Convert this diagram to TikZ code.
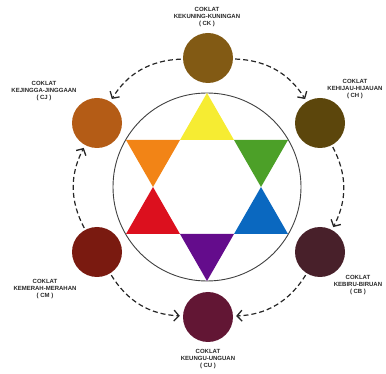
\documentclass[tikz,border=0pt]{standalone}
\usepackage{fontspec}
\setsansfont{Liberation Sans}
\usetikzlibrary{arrows.meta}

\definecolor{ckColor}{RGB}{130,90,20}
\definecolor{chColor}{RGB}{92,70,12}
\definecolor{cjColor}{RGB}{180,92,22}
\definecolor{cmColor}{RGB}{122,26,16}
\definecolor{cbColor}{RGB}{72,32,42}
\definecolor{cuColor}{RGB}{98,22,52}
\definecolor{starYellow}{RGB}{246,236,50}
\definecolor{starGreen}{RGB}{76,160,40}
\definecolor{starBlue}{RGB}{10,104,192}
\definecolor{starViolet}{RGB}{100,12,140}
\definecolor{starRed}{RGB}{220,16,30}
\definecolor{starOrange}{RGB}{242,132,22}

\begin{document}
\begin{tikzpicture}[x=1pt,y=-1pt,
			blob/.style = {circle, minimum size=50pt, inner sep=0pt},
			lbl/.style = {font=\sffamily\bfseries\fontsize{6}{7}\selectfont, align=center, text=black!85, inner sep=1pt},
			arc/.style = {line width=1.2pt, black!85, dash pattern=on 5pt off 3pt,
			              -{Straight Barb[length=5pt, width=11pt, line width=1.3pt]}, shorten >=3pt, shorten <=2pt}]

			% frame
			\useasboundingbox (0,0) rectangle (386,374);

			% star inside the circle
			\node [circle, draw=black!75, line width=0.9pt, minimum size=188pt, inner sep=0pt] (ring) at (207,187) {};
			\fill [starYellow] (207,93) -- (180,140) -- (234,140) -- cycle;
			\fill [starGreen] (288,140) -- (234,140) -- (261,187) -- cycle;
			\fill [starBlue] (288,234) -- (261,187) -- (234,234) -- cycle;
			\fill [starViolet] (207,281) -- (234,234) -- (180,234) -- cycle;
			\fill [starRed] (126,234) -- (180,234) -- (153,187) -- cycle;
			\fill [starOrange] (126,140) -- (153,187) -- (180,140) -- cycle;

			% the six browns
			\node [blob, fill=ckColor] (ck) at (208,58) {};
			\node [blob, fill=chColor] (ch) at (320,123) {};
			\node [blob, fill=cbColor] (cb) at (320,252) {};
			\node [blob, fill=cuColor] (cu) at (208,317) {};
			\node [blob, fill=cmColor] (cm) at (97,252) {};
			\node [blob, fill=cjColor] (cj) at (97,123) {};

			% labels
			\node [lbl] (lck) at (207,17) {COKLAT\\KEKUNING-KUNINGAN\\( CK )};
			\node [lbl] (lch) at (355,89) {COKLAT\\KEHIJAU-HIJAUAN\\( CH )};
			\node [lbl] (lcb) at (358,285) {COKLAT\\KEBIRU-BIRUAN\\( CB )};
			\node [lbl] (lcu) at (208,359) {COKLAT\\KEUNGU-UNGUAN\\( CU )};
			\node [lbl] (lcm) at (45,289) {COKLAT\\KEMERAH-MERAHAN\\( CM )};
			\node [lbl] (lcj) at (44,91) {COKLAT\\KEJINGGA-JINGGAAN\\( CJ )};

			% dashed arrows
			\draw [arc] (ck) to [bend right=28] (cj);
			\draw [arc] (ck) to [bend left=28] (ch);
			\draw [arc] (cm) to [bend left=28] (cj);
			\draw [arc] (ch) to [bend left=28] (cb);
			\draw [arc] (cm) to [bend right=28] (cu);
			\draw [arc] (cb) to [bend left=28] (cu);
		\end{tikzpicture}
\end{document}
